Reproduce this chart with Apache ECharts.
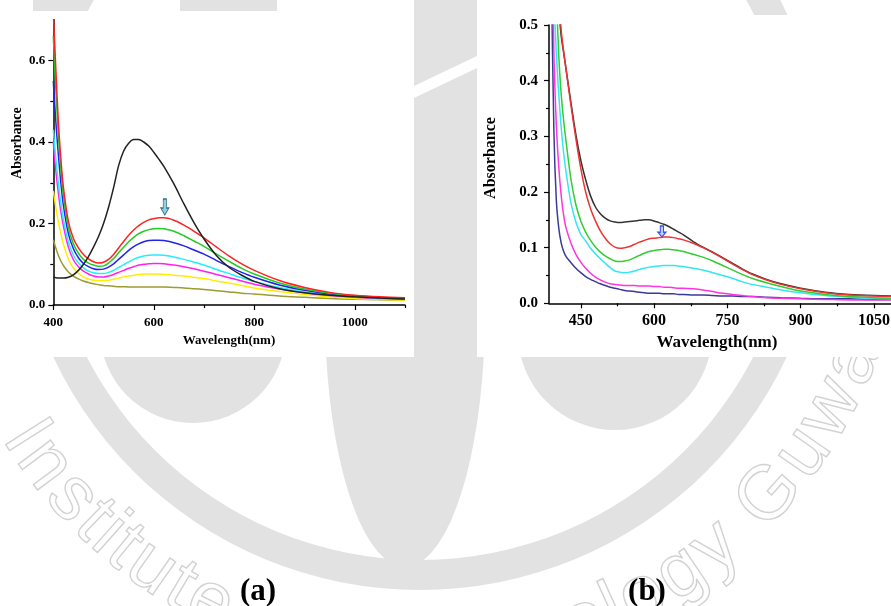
<!DOCTYPE html>
<html><head><meta charset="utf-8">
<script src="https://cdn.jsdelivr.net/npm/echarts@6/dist/echarts.min.js"></script>
<style>html,body{margin:0;padding:0;background:#fff;}#c{width:891px;height:606px;}</style>
</head><body><div id="c"></div>
<script>
// ---------- Panel (a) data ----------
const waveA = [400,405,410,415,420,430,440,450,460,470,480,490,500,510,520,530,540,550,560,570,580,590,600,610,620,640,660,680,700,725,750,775,800,850,900,950,1000,1050,1100];
const aBlack = [0.069,0.067,0.066,0.066,0.066,0.068,0.074,0.085,0.100,0.119,0.142,0.168,0.200,0.240,0.288,0.342,0.378,0.397,0.406,0.406,0.400,0.390,0.375,0.358,0.340,0.297,0.248,0.202,0.162,0.121,0.092,0.073,0.058,0.040,0.030,0.024,0.020,0.017,0.015];
const aRed = [0.72,0.58,0.45,0.36,0.29,0.205,0.163,0.140,0.124,0.113,0.106,0.103,0.105,0.112,0.124,0.140,0.156,0.171,0.184,0.195,0.203,0.209,0.212,0.214,0.214,0.208,0.196,0.181,0.165,0.142,0.120,0.101,0.085,0.060,0.043,0.031,0.024,0.020,0.018];
const aGreen = [0.66,0.53,0.42,0.335,0.27,0.19,0.150,0.127,0.112,0.103,0.098,0.095,0.096,0.103,0.114,0.128,0.142,0.155,0.166,0.175,0.181,0.185,0.187,0.188,0.187,0.181,0.170,0.157,0.144,0.125,0.107,0.090,0.076,0.054,0.039,0.029,0.023,0.019,0.017];
const aBlue = [0.55,0.45,0.37,0.30,0.245,0.175,0.138,0.116,0.102,0.094,0.089,0.087,0.088,0.093,0.101,0.112,0.123,0.134,0.143,0.150,0.155,0.158,0.159,0.159,0.158,0.153,0.145,0.135,0.125,0.109,0.094,0.080,0.068,0.049,0.036,0.027,0.022,0.018,0.016];
const aCyan = [0.43,0.36,0.30,0.25,0.21,0.155,0.122,0.103,0.091,0.083,0.079,0.077,0.077,0.080,0.085,0.092,0.099,0.106,0.112,0.117,0.120,0.122,0.123,0.123,0.122,0.118,0.112,0.105,0.098,0.087,0.077,0.067,0.058,0.043,0.032,0.025,0.020,0.017,0.015];
const aMagenta = [0.40,0.33,0.275,0.23,0.195,0.142,0.111,0.094,0.083,0.076,0.071,0.069,0.069,0.071,0.075,0.080,0.085,0.090,0.094,0.098,0.100,0.101,0.102,0.102,0.101,0.098,0.094,0.089,0.083,0.075,0.067,0.059,0.051,0.039,0.030,0.023,0.019,0.016,0.014];
const aYellow = [0.28,0.24,0.205,0.175,0.15,0.113,0.091,0.078,0.069,0.064,0.061,0.060,0.060,0.061,0.063,0.066,0.069,0.071,0.073,0.075,0.076,0.076,0.076,0.076,0.075,0.073,0.071,0.068,0.065,0.059,0.054,0.048,0.042,0.033,0.026,0.020,0.016,0.014,0.012];
const aOlive = [0.16,0.14,0.122,0.108,0.097,0.081,0.071,0.064,0.059,0.055,0.052,0.050,0.048,0.047,0.046,0.045,0.045,0.044,0.044,0.044,0.044,0.044,0.044,0.044,0.044,0.043,0.042,0.040,0.038,0.035,0.032,0.029,0.027,0.022,0.019,0.016,0.014,0.013,0.012];
const arrowA = [622, 0.221];

// ---------- Panel (b) data ----------
const waveB = [385,390,395,400,405,410,415,420,430,440,450,460,470,480,490,500,510,520,530,540,550,560,570,580,590,600,610,620,630,640,650,660,680,700,720,740,760,780,800,830,860,900,950,1000,1050,1100];
const bBlack = [1.2,1.0,0.85,0.62,0.53,0.48,0.45,0.42,0.360,0.303,0.257,0.222,0.193,0.173,0.161,0.153,0.148,0.146,0.145,0.146,0.147,0.148,0.149,0.150,0.150,0.148,0.145,0.142,0.138,0.133,0.128,0.123,0.111,0.101,0.092,0.082,0.072,0.062,0.053,0.043,0.035,0.027,0.020,0.016,0.014,0.013];
const bRed = [1.2,1.1,0.90,0.66,0.555,0.49,0.452,0.42,0.355,0.296,0.243,0.200,0.170,0.148,0.130,0.117,0.107,0.101,0.099,0.100,0.102,0.106,0.110,0.113,0.116,0.117,0.118,0.119,0.119,0.118,0.116,0.114,0.108,0.100,0.091,0.081,0.071,0.061,0.052,0.042,0.034,0.026,0.019,0.015,0.013,0.012];
const bGreen = [1.2,1.0,0.76,0.56,0.445,0.375,0.328,0.29,0.222,0.177,0.148,0.128,0.113,0.101,0.092,0.085,0.080,0.076,0.075,0.076,0.078,0.082,0.086,0.090,0.093,0.095,0.096,0.097,0.097,0.096,0.095,0.093,0.088,0.083,0.076,0.068,0.060,0.052,0.045,0.037,0.030,0.022,0.016,0.012,0.010,0.009];
const bCyan = [1.2,0.85,0.56,0.45,0.375,0.315,0.27,0.235,0.180,0.146,0.124,0.112,0.099,0.089,0.080,0.072,0.064,0.058,0.056,0.055,0.056,0.058,0.061,0.063,0.065,0.066,0.067,0.068,0.068,0.068,0.067,0.066,0.063,0.060,0.055,0.050,0.045,0.039,0.034,0.029,0.024,0.019,0.014,0.011,0.009,0.008];
const bMagenta = [1.2,0.70,0.45,0.32,0.245,0.193,0.158,0.135,0.108,0.088,0.074,0.063,0.054,0.047,0.042,0.038,0.035,0.034,0.033,0.032,0.032,0.032,0.031,0.031,0.031,0.030,0.030,0.029,0.029,0.028,0.027,0.027,0.026,0.024,0.021,0.018,0.016,0.014,0.012,0.010,0.009,0.008,0.007,0.006,0.006,0.006];
const bNavy = [1.2,0.60,0.31,0.185,0.135,0.108,0.093,0.084,0.073,0.063,0.055,0.048,0.043,0.039,0.035,0.032,0.029,0.027,0.025,0.023,0.022,0.021,0.020,0.019,0.018,0.018,0.018,0.017,0.017,0.017,0.016,0.016,0.015,0.015,0.014,0.013,0.013,0.012,0.012,0.011,0.010,0.009,0.008,0.008,0.007,0.007];
const arrowB = [616, 0.119];

// ---------- ticks ----------
const ticksAX = [400,600,800,1000];
const minorAX = [500,700,900,1100];
const ticksAY = [0,0.2,0.4,0.6];
const minorAY = [0.1,0.3,0.5];
const ticksBX = [450,600,750,900,1050];
const minorBX = [525,675,825,975];
const ticksBY = [0,0.1,0.2,0.3,0.4,0.5];
const minorBY = [0.05,0.15,0.25,0.35,0.45];

const SERIF = '"Liberation Serif","Times New Roman",serif';
const zip = (xs, ys) => xs.map((x, i) => [x, ys[i]]);
const ARROW = 'path://M3,0L7,0L7,9L10,9L5,16L0,9L3,9Z';

function majorX(grid, min, max, ticks, fs, margin) {
  return {gridIndex: grid, type: 'value', min, max, position: 'bottom', z: 5,
    axisLine: {lineStyle: {color: '#000', width: 1.5}},
    axisTick: {customValues: ticks, length: 5, lineStyle: {color: '#000', width: 1.2}},
    axisLabel: {customValues: ticks, margin, color: '#000', fontFamily: SERIF, fontWeight: 'bold', fontSize: fs,
      formatter: v => String(v)},
    splitLine: {show: false}};
}
function minorX(grid, min, max, ticks) {
  return {gridIndex: grid, type: 'value', min, max, position: 'bottom', z: 5,
    axisLine: {show: false},
    axisTick: {customValues: ticks, length: 3, lineStyle: {color: '#000', width: 1.2}},
    axisLabel: {show: false}, splitLine: {show: false}};
}
function majorY(grid, max, ticks, fs, margin) {
  return {gridIndex: grid, type: 'value', min: 0, max, position: 'left', z: 5,
    axisLine: {show: true, lineStyle: {color: '#000', width: 1.5}},
    axisTick: {show: true, customValues: ticks, length: 5, lineStyle: {color: '#000', width: 1.2}},
    axisLabel: {customValues: ticks, margin, color: '#000', fontFamily: SERIF, fontWeight: 'bold', fontSize: fs,
      formatter: v => v.toFixed(1)},
    splitLine: {show: false}};
}
function minorY(grid, max, ticks) {
  return {gridIndex: grid, type: 'value', min: 0, max, position: 'left', z: 5,
    axisLine: {show: false},
    axisTick: {show: true, customValues: ticks, length: 3, lineStyle: {color: '#000', width: 1.2}},
    axisLabel: {show: false}, splitLine: {show: false}};
}
function line(name, xi, yi, xs, ys, color, extra) {
  return Object.assign({name, type: 'line', xAxisIndex: xi, yAxisIndex: yi, data: zip(xs, ys),
    showSymbol: false, smooth: 0.3, z: 6, clip: true,
    lineStyle: {color, width: 1.5}, itemStyle: {color}}, extra || {});
}

// ---------- watermark (background decoration) ----------
const WM = '#e2e2e2';
const wm = [];
wm.push({type: 'ring', shape: {cx: 420, cy: 185, r: 405, r0: 375}, style: {fill: WM}, z: 0, silent: true});
wm.push({type: 'circle', shape: {cx: 193, cy: 330, r: 93}, style: {fill: WM}, z: 0, silent: true});
wm.push({type: 'circle', shape: {cx: 615, cy: 333, r: 97}, style: {fill: WM}, z: 0, silent: true});
const ell = [];
for (let i = 0; i < 72; i++) { const t = i / 72 * Math.PI * 2; ell.push([405 + 80 * Math.cos(t), 312 + 255 * Math.sin(t)]); }
wm.push({type: 'polygon', shape: {points: ell}, style: {fill: WM}, z: 0, silent: true});
wm.push({type: 'rect', shape: {x: 414, y: 0, width: 63, height: 357}, style: {fill: WM}, z: 0, silent: true});
wm.push({type: 'polygon', shape: {points: [[414, 86], [477, 56], [477, 68], [414, 98]]}, style: {fill: '#fff'}, z: 0, silent: true});
wm.push({type: 'rect', shape: {x: 33, y: 0, width: 45, height: 12}, style: {fill: WM}, z: 0, silent: true});
wm.push({type: 'rect', shape: {x: 180, y: 0, width: 97, height: 12}, style: {fill: WM}, z: 0, silent: true});
(function () {
  const txt = 'Institute of Technology Guwahati';
  const font = '76px "Liberation Sans", Arial, sans-serif';
  const ctx = document.createElement('canvas').getContext('2d');
  ctx.font = font;
  const chars = [...txt];
  let cum = 0; const cen = [];
  chars.forEach(c => { const w = ctx.measureText(c).width; cen.push(cum + w / 2); cum += w; });
  const gi = txt.indexOf('G');
  const th0 = 147.5, thG = 41.6, R = 468, cx = 420, cy = 185;
  const k = (th0 - thG) / (cen[gi] - cen[0]);
  chars.forEach((c, i) => {
    if (c === ' ') return;
    const th = (th0 - (cen[i] - cen[0]) * k) * Math.PI / 180;
    wm.push({type: 'text', x: cx + R * Math.cos(th), y: cy + R * Math.sin(th),
      rotation: Math.PI / 2 - th, z: 0, silent: true,
      style: {text: c, font, fill: 'rgba(0,0,0,0)', stroke: '#d2d2d2', lineWidth: 1.4, align: 'center', verticalAlign: 'middle'}});
  });
})();

// panels
const panels = [
  {type: 'rect', shape: {x: 0, y: 11, width: 414, height: 346}, style: {fill: '#fff'}, z: 1, silent: true},
  {type: 'rect', shape: {x: 477, y: 15, width: 414, height: 342}, style: {fill: '#fff'}, z: 1, silent: true}
];
const titles = [
  {type: 'text', x: 17, y: 143, rotation: Math.PI / 2, z: 3, style: {text: 'Absorbance', font: 'bold 14px ' + SERIF, fill: '#000', align: 'center', verticalAlign: 'middle'}},
  {type: 'text', x: 229, y: 341, z: 3, style: {text: 'Wavelength(nm)', font: 'bold 13px ' + SERIF, fill: '#000', align: 'center', verticalAlign: 'middle'}},
  {type: 'text', x: 491, y: 158, rotation: Math.PI / 2, z: 3, style: {text: 'Absorbance', font: 'bold 16px ' + SERIF, fill: '#000', align: 'center', verticalAlign: 'middle'}},
  {type: 'text', x: 717, y: 343, z: 3, style: {text: 'Wavelength(nm)', font: 'bold 17px ' + SERIF, fill: '#000', align: 'center', verticalAlign: 'middle'}},
  {type: 'text', x: 258, y: 592, z: 3, style: {text: '(a)', font: 'bold 31px ' + SERIF, fill: '#000', align: 'center', verticalAlign: 'middle'}},
  {type: 'text', x: 647, y: 592, z: 3, style: {text: '(b)', font: 'bold 31px ' + SERIF, fill: '#000', align: 'center', verticalAlign: 'middle'}}
];

const chart = echarts.init(document.getElementById('c'), null, {renderer: 'canvas'});
chart.setOption({
  animation: false,
  backgroundColor: '#fff',
  graphic: {elements: wm.concat(panels, titles)},
  grid: [
    {left: 53.3, top: 19.75, width: 351.7, height: 285.25, outerBoundsMode: 'none', containLabel: false},
    {left: 549, top: 25, width: 349.5, height: 278.3, outerBoundsMode: 'none', containLabel: false}
  ],
  xAxis: [
    majorX(0, 400, 1100, ticksAX, 13, 11), minorX(0, 400, 1100, minorAX),
    majorX(1, 385, 1100, ticksBX, 16, 10), minorX(1, 385, 1100, minorBX)
  ],
  yAxis: [
    majorY(0, 0.7, ticksAY, 13, 8), minorY(0, 0.7, minorAY),
    majorY(1, 0.5, ticksBY, 15, 11), minorY(1, 0.5, minorBY)
  ],
  series: [
    line('a-olive', 0, 0, waveA, aOlive, '#9c9c30'),
    line('a-yellow', 0, 0, waveA, aYellow, '#ffee00'),
    line('a-magenta', 0, 0, waveA, aMagenta, '#ff22ee'),
    line('a-cyan', 0, 0, waveA, aCyan, '#22eeff'),
    line('a-blue', 0, 0, waveA, aBlue, '#2222ee'),
    line('a-green', 0, 0, waveA, aGreen, '#22cc22'),
    line('a-red', 0, 0, waveA, aRed, '#ff2222', {markPoint: {silent: true, symbol: ARROW, symbolSize: [8, 16], symbolOffset: [0, '-50%'],
      label: {show: false}, itemStyle: {color: '#8fd0e2', borderColor: '#3a6f80', borderWidth: 1}, data: [{coord: arrowA}]}}),
    line('a-black', 0, 0, waveA, aBlack, '#222222'),
    line('b-navy', 2, 2, waveB, bNavy, '#3a3a9a'),
    line('b-magenta', 2, 2, waveB, bMagenta, '#ff33e0'),
    line('b-cyan', 2, 2, waveB, bCyan, '#33e6f0'),
    line('b-green', 2, 2, waveB, bGreen, '#33cc33'),
    line('b-black', 2, 2, waveB, bBlack, '#333333'),
    line('b-red', 2, 2, waveB, bRed, '#ee3333', {markPoint: {silent: true, symbol: ARROW, symbolSize: [8, 11], symbolOffset: [0, '-50%'],
      label: {show: false}, itemStyle: {color: '#c4d0ff', borderColor: '#3355ee', borderWidth: 1.2}, data: [{coord: arrowB}]}})
  ]
});
</script></body></html>
